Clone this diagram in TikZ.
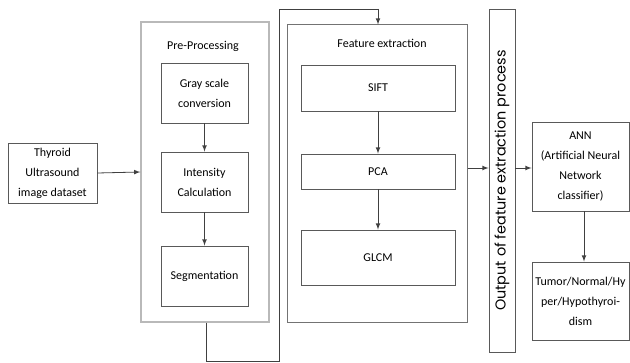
\documentclass[tikz,border=0pt]{standalone}
\usepackage{fontspec}
\setmainfont{Carlito}
\newfontfamily\gothic{Poppins}
\usetikzlibrary{arrows}
\tikzset{
	stage/.style={draw=black!65,line width=0.7pt,align=center,inner sep=1pt,font=\fontsize{9}{15}\selectfont},
	group/.style={draw=gray!55,line width=1pt},
	flow/.style={->,>=latex,draw=black!75,line width=0.6pt},
}

\begin{document}
\begin{tikzpicture}[x=0.75pt,y=-0.75pt]
		\useasboundingbox (0,0) rectangle (630,363);
		% outer groups
		\node[group,minimum width=128*0.75pt,minimum height=300*0.75pt] (pre) at (205,172) {};
		\node[group,draw=black!55,line width=0.75pt,minimum width=180*0.75pt,minimum height=297*0.75pt] (feat) at (377,173.5) {};
		\node[font=\fontsize{9}{11}\selectfont] (prelabel) at (203,46) {Pre-Processing};
		\node[font=\fontsize{9}{11}\selectfont] (featlabel) at (382,43) {Feature extraction};
		% input
		\node[stage,minimum width=89*0.75pt,minimum height=60*0.75pt] (data) at (52.5,173) {Thyroid\\Ultrasound\\image dataset};
		% pre-processing steps
		\node[stage,minimum width=87*0.75pt,minimum height=60*0.75pt] (gray) at (204.5,93) {Gray scale\\conversion};
		\node[stage,minimum width=87*0.75pt,minimum height=60*0.75pt] (inten) at (204.5,182) {Intensity\\Calculation};
		\node[stage,minimum width=87*0.75pt,minimum height=60*0.75pt] (seg) at (204.5,276) {Segmentation};
		% feature extraction steps
		\node[stage,minimum width=154*0.75pt,minimum height=46*0.75pt] (sift) at (378,88) {SIFT};
		\node[stage,minimum width=154*0.75pt,minimum height=35*0.75pt] (pca) at (378,171.5) {PCA};
		\node[stage,minimum width=154*0.75pt,minimum height=55*0.75pt] (glcm) at (378,257.5) {GLCM};
		% output of features
		\node[stage,minimum width=26*0.75pt,minimum height=343*0.75pt] (out) at (502,180.5) {};
		\node[rotate=90,font=\gothic\fontsize{10.8}{12}\selectfont] (outlabel) at (out.center) {Output of feature extraction process};
		% classifier
		\node[stage,minimum width=97*0.75pt,minimum height=89*0.75pt] (ann) at (580.5,166.5) {ANN\\(Artificial Neural\\Network\\classifier)};
		\node[stage,minimum width=97*0.75pt,minimum height=78*0.75pt] (res) at (580.5,301) {Tumor/Normal/Hy\\per/Hypothyroi-\\dism};
		% connectors
		\coordinate (c1) at (206,361);
		\coordinate (c2) at (279,361);
		\coordinate (c3) at (279,9);
		\coordinate (c4) at (378,9);
		\draw[flow] (data.east) -- (pre.west);
		\draw[flow] (gray) -- (inten);
		\draw[flow] (inten) -- (seg);
		\draw[flow,-] (pre.south -| c1) -- (c1) -- (c2) -- (c3) -- (c4);
		\draw[flow] (c4) -- (c4 |- feat.north);
		\draw[flow] (sift) -- (pca);
		\draw[flow] (pca) -- (glcm);
		\draw[flow] (feat.east |- 0,168) -- (out.west |- 0,168);
		\draw[flow] (out.east |- 0,168) -- (ann.west |- 0,168);
		\draw[flow] (ann.south -| 584,0) -- (res.north -| 584,0);
	\end{tikzpicture}
\end{document}
